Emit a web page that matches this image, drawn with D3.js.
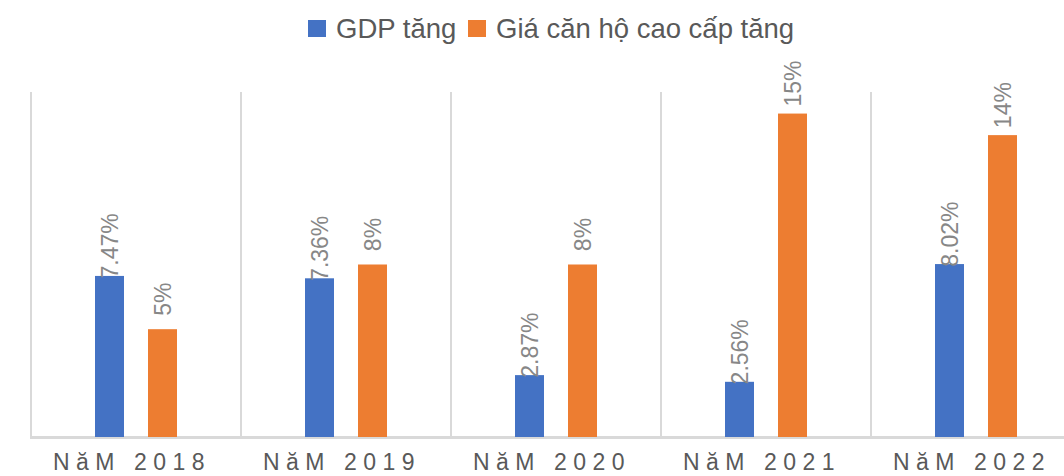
<!DOCTYPE html>
<html>
<head>
<meta charset="utf-8">
<script src="https://cdn.jsdelivr.net/npm/d3@7"></script>
<style>
  html, body { margin: 0; padding: 0; background: #fff; }
  svg { display: block; font-family: "Liberation Sans", Arial, sans-serif; }
</style>
</head>
<body>
<svg id="chart" width="1064" height="476"></svg>
<script>
const categories = ["NăM 2018", "NăM 2019", "NăM 2020", "NăM 2021", "NăM 2022"];
const seriesNames = ["GDP tăng", "Giá căn hộ cao cấp tăng"];
const gdpValues = [7.47, 7.36, 2.87, 2.56, 8.02];
const priceValues = [5, 8, 8, 15, 14];
const gdpLabels = ["7.47%", "7.36%", "2.87%", "2.56%", "8.02%"];
const priceLabels = ["5%", "8%", "8%", "15%", "14%"];
const colors = ["#4472C4", "#ED7D31"];

const svg = d3.select("#chart");
const plot = { left: 31, right: 1081, top: 92, bottom: 437 };

const x0 = d3.scaleBand().domain(categories).range([plot.left, plot.right]).paddingInner(0).paddingOuter(0);
const x1 = d3.scaleBand().domain(seriesNames).range([0, x0.bandwidth()]).paddingInner(0.4528).paddingOuter(1.2075);
const y = d3.scaleLinear().domain([0, 16]).range([plot.bottom, plot.top]);

// vertical gridlines (category separators)
const sep = categories.map(c => x0(c)).concat([plot.right]);
svg.append("g").selectAll("line").data(sep).join("line")
  .attr("x1", d => d).attr("x2", d => d)
  .attr("y1", y(16)).attr("y2", y(0))
  .attr("stroke", "#d9d9d9").attr("stroke-width", 2);

// baseline
svg.append("line")
  .attr("x1", plot.left - 1).attr("x2", plot.right)
  .attr("y1", y(0) + 0.5).attr("y2", y(0) + 0.5)
  .attr("stroke", "#d9d9d9").attr("stroke-width", 3);

const rows = categories.map((c, i) => ({
  cat: c,
  vals: [
    { s: seriesNames[0], v: gdpValues[i], label: gdpLabels[i], color: colors[0] },
    { s: seriesNames[1], v: priceValues[i], label: priceLabels[i], color: colors[1] }
  ]
}));

const groups = svg.append("g").selectAll("g").data(rows).join("g")
  .attr("transform", d => `translate(${x0(d.cat)},0)`);

groups.selectAll("rect").data(d => d.vals).join("rect")
  .attr("x", d => x1(d.s))
  .attr("width", x1.bandwidth())
  .attr("y", d => y(d.v))
  .attr("height", d => y(0) - y(d.v))
  .attr("fill", d => d.color);

groups.selectAll("text").data(d => d.vals).join("text")
  .attr("transform", d => `translate(${x1(d.s) + x1.bandwidth() / 2},${y(d.v) - 30}) rotate(-90)`)
  .attr("text-anchor", "middle")
  .attr("dy", "0.35em")
  .attr("font-size", 23)
  .attr("fill", "#878787")
  .text(d => d.label);

// category labels
svg.append("g").selectAll("text").data(categories).join("text")
  .attr("x", d => x0(d) + x0.bandwidth() / 2 - 4)
  .attr("y", 470)
  .attr("text-anchor", "middle")
  .attr("font-size", 23)
  .attr("letter-spacing", "6.5px")
  .attr("fill", "#595959")
  .text(d => d);

// legend
const legend = svg.append("g");
const legendItems = [
  { name: seriesNames[0], color: colors[0], x: 308 },
  { name: seriesNames[1], color: colors[1], x: 468 }
];
legendItems.forEach(it => {
  legend.append("rect").attr("x", it.x).attr("y", 20).attr("width", 18).attr("height", 17).attr("fill", it.color);
  legend.append("text").attr("x", it.x + 28).attr("y", 38)
    .attr("font-size", 27.5).attr("fill", "#595959").text(it.name);
});
</script>
</body>
</html>
